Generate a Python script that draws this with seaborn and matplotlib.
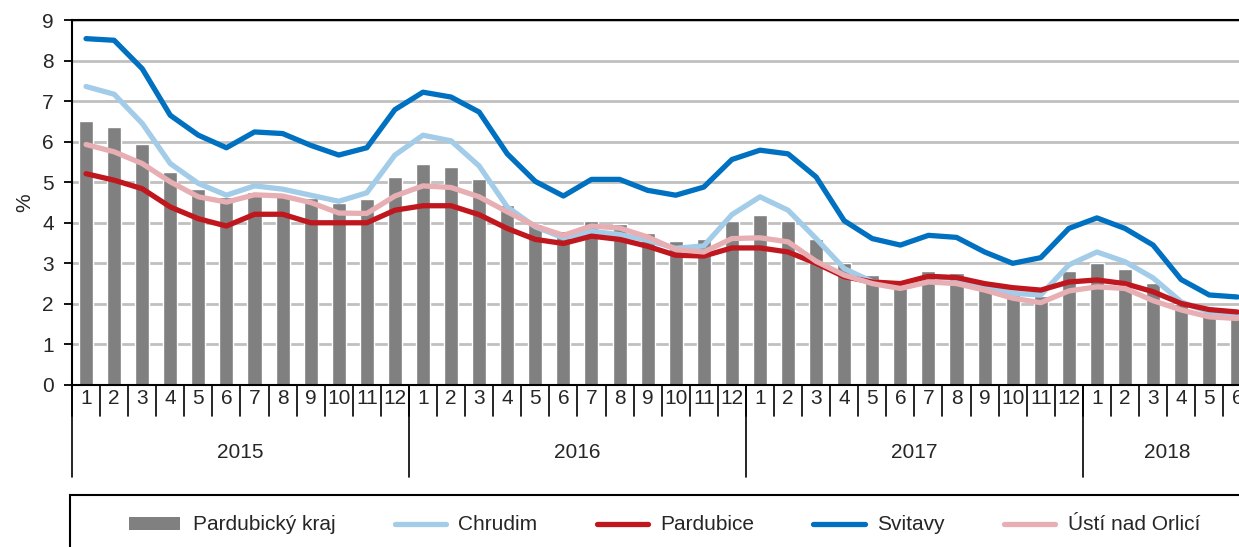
import numpy as np
import pandas as pd
import matplotlib
matplotlib.use("Agg")
import matplotlib.pyplot as plt
import matplotlib.transforms as mtransforms
from matplotlib.patches import Rectangle, Patch
from matplotlib.lines import Line2D
import seaborn as sns

# ---------------- data ----------------
months = list(range(1, 13)) * 3 + list(range(1, 7))
years = [2015] * 12 + [2016] * 12 + [2017] * 12 + [2018] * 6
year_labels = ["2015", "2016", "2017", "2018"]

kraj = [6.50, 6.35, 5.95, 5.25, 4.83, 4.63, 4.76, 4.70, 4.60, 4.50, 4.58, 5.12,
        5.46, 5.37, 5.07, 4.43, 3.98, 3.79, 4.04, 3.98, 3.74, 3.55, 3.60, 4.04,
        4.19, 4.05, 3.60, 3.00, 2.71, 2.60, 2.82, 2.77, 2.56, 2.22, 2.20, 2.82,
        3.01, 2.87, 2.52, 2.00, 1.80, 1.65]
chrudim = [7.36, 7.17, 6.45, 5.46, 4.97, 4.68, 4.91, 4.83, 4.68, 4.53, 4.74, 5.67,
           6.16, 6.02, 5.40, 4.39, 3.90, 3.63, 3.79, 3.71, 3.57, 3.37, 3.43, 4.20,
           4.64, 4.31, 3.61, 2.87, 2.55, 2.46, 2.68, 2.63, 2.42, 2.26, 2.22, 2.96,
           3.28, 3.04, 2.64, 2.05, 1.80, 1.72]
pardubice = [5.21, 5.05, 4.84, 4.39, 4.10, 3.92, 4.21, 4.21, 4.00, 4.00, 4.00, 4.31,
             4.42, 4.42, 4.20, 3.86, 3.59, 3.49, 3.67, 3.59, 3.42, 3.20, 3.18, 3.38,
             3.38, 3.28, 3.00, 2.67, 2.54, 2.50, 2.68, 2.65, 2.50, 2.40, 2.34, 2.54,
             2.59, 2.50, 2.30, 2.01, 1.86, 1.80]
svitavy = [8.54, 8.50, 7.80, 6.65, 6.16, 5.85, 6.24, 6.20, 5.91, 5.67, 5.85, 6.79,
           7.22, 7.10, 6.73, 5.70, 5.02, 4.66, 5.07, 5.07, 4.80, 4.68, 4.88, 5.56,
           5.79, 5.70, 5.13, 4.05, 3.61, 3.45, 3.69, 3.64, 3.28, 3.00, 3.14, 3.86,
           4.12, 3.86, 3.45, 2.60, 2.22, 2.17]
usti = [5.93, 5.75, 5.46, 5.01, 4.64, 4.51, 4.69, 4.66, 4.50, 4.24, 4.23, 4.66,
        4.91, 4.87, 4.64, 4.27, 3.92, 3.69, 3.92, 3.87, 3.65, 3.34, 3.28, 3.61,
        3.63, 3.53, 3.05, 2.71, 2.50, 2.38, 2.54, 2.50, 2.34, 2.14, 2.03, 2.32,
        2.42, 2.38, 2.08, 1.85, 1.68, 1.64]

bar_name = "Pardubický kraj"
line_names = ["Chrudim", "Pardubice", "Svitavy", "Ústí nad Orlicí"]
line_values = [chrudim, pardubice, svitavy, usti]
line_colors = ["#A3CCE9", "#C0161E", "#0070C0", "#E7AFB3"]
bar_color = "#808080"

# ---------------- style ----------------
sns.set_style("white")
plt.rcParams["font.family"] = ["Liberation Sans", "DejaVu Sans"]
FS = 15

W, H = 1239, 547
fig = plt.figure(figsize=(W / 100, H / 100), dpi=100)
ax_left, ax_top, ax_bottom = 72, 20, 385
ax_width = 42 * 28.08
ax = fig.add_axes([ax_left / W, 1 - ax_bottom / H, ax_width / W, (ax_bottom - ax_top) / H])

n = len(kraj)
idx = np.arange(n)
df_bar = pd.DataFrame({"i": idx, "v": kraj})
sns.barplot(data=df_bar, x="i", y="v", color=bar_color, saturation=1, width=0.5,
            ax=ax, zorder=2)

df_lines = pd.DataFrame({
    "i": np.tile(idx, len(line_names)),
    "v": np.concatenate([np.array(v) for v in line_values]),
    "s": np.repeat(line_names, n),
})
for name, col in zip(line_names, line_colors):
    sub = df_lines[df_lines["s"] == name]
    sns.lineplot(data=sub, x="i", y="v", color=col, linewidth=3.8, ax=ax,
                 zorder=3, legend=False, solid_capstyle="round", solid_joinstyle="round")

ax.set_xlim(-0.5, n - 0.5)
ax.set_ylim(0, 9)
ax.set_yticks(range(0, 10))
ax.set_yticklabels([str(v) for v in range(0, 10)], fontsize=FS)
ax.tick_params(axis="y", which="major", left=True, length=6, width=1.3, color="black", pad=7)
ax.yaxis.grid(True, color="#C0C0C0", linewidth=2)
ax.set_axisbelow(True)
ax.set_xticks([])
ax.set_xlabel("")
ax.set_ylabel("%", fontsize=FS, labelpad=6)

for side in ["left", "top", "bottom"]:
    ax.spines[side].set_visible(True)
    ax.spines[side].set_color("black")
    ax.spines[side].set_linewidth(1.5)
ax.spines["right"].set_visible(False)

# multi-level x axis
trans = mtransforms.blended_transform_factory(ax.transData, ax.transAxes)
axh = ax_bottom - ax_top
for i, m in enumerate(months):
    ax.text(i, -13 / axh, str(m), transform=trans, ha="center", va="center",
            fontsize=FS, clip_on=False)
for i in range(n):
    ax.plot([i - 0.5, i - 0.5], [0, -31 / axh], transform=trans, color="black",
            lw=1.2, clip_on=False)
year_starts = [0, 12, 24, 36]
year_counts = [12, 12, 12, 6]
for s, c, lab in zip(year_starts, year_counts, year_labels):
    ax.plot([s - 0.5, s - 0.5], [0, -92 / axh], transform=trans, color="black",
            lw=1.2, clip_on=False)
    ax.text(s + (c - 1) / 2, -67 / axh, lab, transform=trans, ha="center",
            va="center", fontsize=FS, clip_on=False)

# legend box (cropped in reference)
fig.patches.append(Rectangle((70 / W, -0.2), 1.2, (H - 495) / H + 0.2,
                             transform=fig.transFigure, fill=False,
                             edgecolor="black", linewidth=1.5))
handles = [Patch(facecolor=bar_color, edgecolor="none", label=bar_name)]
for name, col in zip(line_names, line_colors):
    handles.append(Line2D([0], [0], color=col, lw=3.8, solid_capstyle="round", label=name))
fig.legend(handles=handles, loc="center left", bbox_to_anchor=(129 / W, 1 - 525 / H),
           ncol=5, frameon=False, fontsize=FS, borderpad=0, borderaxespad=0,
           handlelength=2.45, handletextpad=0.6, columnspacing=2.85, handleheight=0.6)

fig.savefig("out.png", dpi=100)
